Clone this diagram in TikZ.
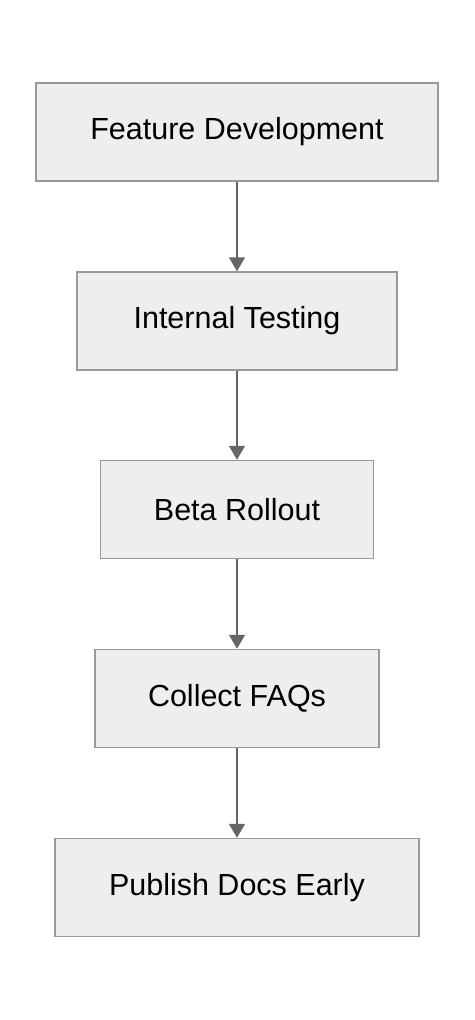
\documentclass[tikz,border=0pt]{standalone}
\usepackage{fontspec}
\setmainfont{Liberation Sans}
\usetikzlibrary{arrows.meta}
\definecolor{boxfill}{HTML}{EEEEEE}
\definecolor{boxline}{HTML}{999999}
\definecolor{fleche}{HTML}{666666}
\begin{document}
\begin{tikzpicture}[x=1pt,y=-1pt]
  \tikzstyle{lien}=[-{Triangle[length=14pt,width=16pt]},line width=1.6pt,draw=fleche,fill=fleche]
\tikzset{etape/.style={draw=boxline,line width=1.5pt,fill=boxfill,
minimum height=98pt,minimum width=#1,inner xsep=0pt,font=\fontsize{30.5}{36}\selectfont},
etape/.default={300pt}}
\useasboundingbox (0,0) rectangle (474,1020);
\node[etape=402pt] (A) at (237,132){Feature Development};
\node[etape=320pt] (B) at (237,321){Internal Testing};
\node[etape=273pt] (C) at (237,509.5){Beta Rollout};
\node[etape=284pt] (D) at (237,698.5){Collect FAQs};
\node[etape=364pt] (E) at (237,887.5){Publish Docs Early};

\draw[lien] (A) -- (B);
\draw[lien] (B) -- (C);
\draw[lien] (C) -- (D);
\draw[lien] (D) -- (E);

  \end{tikzpicture}
\end{document}
